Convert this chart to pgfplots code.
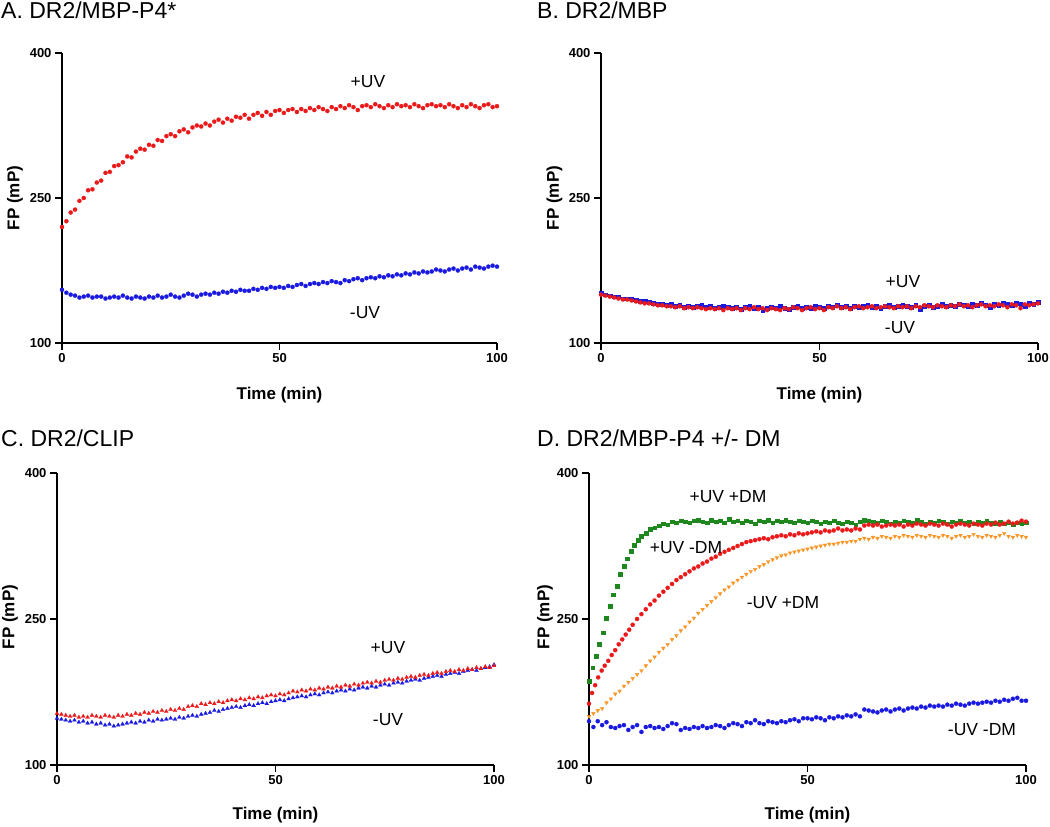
\documentclass[border=0pt]{standalone}
\usepackage{pgfplots}
\pgfplotsset{compat=1.18}
\usepackage{pgfplotstable}
\usepackage{fontspec}
\setmainfont{Liberation Sans}
\definecolor{pr}{RGB}{235,25,25}
\definecolor{pb}{RGB}{25,25,225}
\definecolor{pg}{RGB}{30,135,30}
\definecolor{po}{RGB}{250,150,40}

% Panel A: t, +UV, -UV
\pgfplotstableread{
t up down
0 220 155
1 226 152
2 235 150
3 238 149
4 247 147
5 250 148
6 258 149
7 259 147
8 266 148
9 268 148
10 276 146
11 277 147
12 283 148
13 284 147
14 287 149
15 293 147
16 292 146
17 298 148
18 301 147
19 300 146
20 305 148
21 304 147
22 310 149
23 309 147
24 314 148
25 316 150
26 314 148
27 319 147
28 321 149
29 318 151
30 323 150
31 325 148
32 324 150
33 327 151
34 325 150
35 329 152
36 331 151
37 328 153
38 332 152
39 330 154
40 334 153
41 333 155
42 336 154
43 332 154
44 336 156
45 338 155
46 335 157
47 339 156
48 336 158
49 340 157
50 341 158
51 338 157
52 341 159
53 342 158
54 339 160
55 342 161
56 340 159
57 343 161
58 341 162
59 344 161
60 342 163
61 340 162
62 344 164
63 342 163
64 345 162
65 343 165
66 346 164
67 344 166
68 341 167
69 345 165
70 346 167
71 344 168
72 347 167
73 345 169
74 343 168
75 346 170
76 344 169
77 347 171
78 345 170
79 346 172
80 344 171
81 347 173
82 345 172
83 343 174
84 346 173
85 347 174
86 345 176
87 346 175
88 344 174
89 347 176
90 345 177
91 343 175
92 346 177
93 344 178
94 347 176
95 345 179
96 343 178
97 346 177
98 347 179
99 344 180
100 345 179
}\tabA

% Panel B: t, -UV, +UV
\pgfplotstableread{
t down up
0 152 150
1 150 149
2 149 148
3 148 147
4 148 146
5 146 145
6 146 145
7 145 144
8 144 143
9 143 142
10 143 141
11 142 141
12 141 140
13 140 139
14 140 139
15 139 138
16 140 138
17 138 137
18 139 138
19 137 136
20 138 137
21 137 136
22 138 137
23 139 136
24 137 135
25 138 136
26 136 135
27 137 136
28 138 134
29 137 136
30 136 135
31 137 136
32 135 134
33 137 136
34 138 135
35 136 137
36 137 135
37 134 136
38 136 134
39 137 136
40 136 135
41 138 134
42 136 136
43 135 135
44 137 137
45 138 136
46 136 134
47 137 136
48 136 137
49 138 135
50 137 136
51 136 134
52 138 137
53 137 136
54 139 138
55 137 136
56 138 137
57 136 135
58 138 137
59 137 138
60 138 136
61 139 137
62 137 138
63 138 136
64 136 137
65 138 138
66 139 137
67 137 136
68 138 138
69 139 137
70 138 138
71 137 136
72 139 138
73 135 137
74 138 139
75 139 138
76 137 137
77 138 139
78 140 138
79 138 137
80 139 139
81 138 138
82 140 140
83 139 138
84 138 139
85 140 137
86 139 139
87 141 140
88 139 138
89 137 139
90 140 138
91 139 140
92 141 139
93 140 137
94 139 140
95 141 139
96 140 136
97 138 140
98 141 139
99 140 140
100 142 141
}\tabB

% Panel C: t, +UV, -UV
\pgfplotstableread{
t up down
0 153 148
1 152 147
2 151 146
3 150 145
4 151 146
5 149 144
6 150 145
7 149 143
8 151 144
9 150 142
10 149 143
11 151 141
12 150 142
13 149 140
14 151 141
15 150 142
16 152 143
17 151 144
18 153 143
19 152 145
20 154 144
21 153 146
22 155 145
23 154 147
24 156 146
25 155 147
26 157 148
27 156 147
28 158 149
29 157 148
30 160 150
31 161 151
32 160 150
33 163 152
34 162 153
35 164 154
36 163 156
37 165 155
38 164 157
39 166 158
40 167 159
41 166 160
42 168 159
43 167 161
44 169 162
45 168 161
46 170 163
47 169 164
48 171 163
49 172 165
50 171 166
51 173 167
52 172 166
53 174 168
54 176 169
55 175 170
56 177 171
57 176 170
58 178 172
59 177 173
60 179 172
61 178 174
62 180 175
63 179 174
64 181 176
65 180 177
66 182 176
67 181 178
68 183 177
69 182 179
70 184 180
71 185 179
72 184 181
73 186 180
74 185 182
75 187 183
76 188 182
77 187 184
78 189 185
79 188 184
80 190 186
81 191 187
82 190 188
83 192 187
84 193 189
85 192 190
86 194 191
87 195 192
88 194 191
89 196 193
90 197 194
91 196 195
92 198 194
93 197 196
94 199 197
95 198 198
96 200 197
97 199 199
98 201 200
99 200 201
100 202 203
}\tabC

% Panel D: +UV +DM
\pgfplotstableread{
t v
0 186
0.8 200
1.6 212
2.4 224
3.2 236
4.0 251
4.8 263
5.6 275
6.4 284
7.2 296
8.0 304
8.8 312
9.6 320
10.4 326
11.2 331
12 335
13 338
14 342
15 344
16 346
17 348
18 347
19 350
20 349
21 351
22 350
23 349
24 351
25 352
26 350
27 349
28 352
29 350
30 351
31 349
32 353
33 350
34 351
35 349
36 351
37 350
38 348
39 351
40 350
41 352
42 349
43 351
44 350
45 352
46 350
47 349
48 351
49 350
50 349
51 351
52 350
53 348
54 350
55 349
56 351
57 349
58 348
59 350
60 349
61 347
62 350
63 352
64 351
65 350
66 349
67 351
68 350
69 348
70 350
71 349
72 351
73 350
74 349
75 352
76 350
77 348
78 350
79 349
80 351
81 350
82 348
83 350
84 349
85 351
86 349
87 350
88 348
89 350
90 349
91 351
92 349
93 348
94 350
95 348
96 349
97 347
98 349
99 348
100 349
}\tabDg

% Panel D: +UV -DM
\pgfplotstableread{
t v
0 163
0.7 174
1.4 182
2.1 190
2.9 197
3.6 202
4.4 207
5.2 213
6.0 218
6.8 224
7.6 229
8.4 234
9.2 239
10 244
11 250
12 255
13 260
14 265
15 269
16 274
17 278
18 282
19 286
20 290
21 293
22 296
23 299
24 302
25 304
26 307
27 309
28 312
29 314
30 317
31 319
32 321
33 323
34 325
35 327
36 329
37 330
38 331
39 332
40 333
41 332
42 334
43 335
44 336
45 335
46 337
47 336
48 338
49 337
50 338
51 339
52 340
53 339
54 341
55 340
56 341
57 343
58 341
59 342
60 341
61 343
62 342
63 346
64 347
65 346
66 347
67 345
68 346
69 347
70 346
71 347
72 345
73 347
74 346
75 348
76 347
77 346
78 348
79 347
80 346
81 348
82 347
83 345
84 347
85 348
86 347
87 346
88 348
89 347
90 346
91 348
92 347
93 349
94 347
95 348
96 350
97 348
98 349
99 351
100 350
}\tabDr

% Panel D: -UV +DM (o), -UV -DM (b)
\pgfplotstableread{
t o b
0 150 145
1 153 139
2 156 145
3 158 141
4 164 144
5 168 139
6 173 138
7 176 140
8 181 141
9 185 136
10 189 139
11 193 141
12 197 134
13 202 139
14 207 140
15 211 138
16 216 139
17 220 137
18 224 140
19 229 143
20 233 142
21 238 136
22 242 138
23 247 137
24 251 139
25 256 138
26 260 140
27 264 138
28 268 139
29 272 141
30 276 140
31 280 138
32 283 141
33 287 143
34 290 142
35 293 140
36 296 144
37 299 143
38 301 146
39 304 143
40 306 142
41 309 145
42 311 144
43 313 143
44 315 145
45 316 144
46 318 146
47 319 147
48 320 145
49 321 148
50 322 148
51 323 147
52 324 149
53 325 148
54 326 146
55 327 149
56 327 148
57 328 150
58 329 149
59 329 151
60 330 150
61 330 152
62 332 150
63 333 157
64 332 156
65 334 155
66 333 154
67 335 156
68 334 157
69 333 155
70 335 157
71 334 158
72 336 156
73 335 158
74 334 159
75 336 158
76 335 160
77 334 159
78 336 161
79 335 160
80 334 161
81 336 160
82 335 162
83 333 161
84 335 163
85 336 162
86 334 161
87 335 163
88 337 164
89 335 163
90 334 164
91 336 165
92 335 164
93 334 166
94 336 165
95 338 167
96 335 166
97 334 168
98 336 169
99 335 166
100 334 166
}\tabDob

\pgfplotsset{
  panel/.style={
    scale only axis, anchor=south west,
    axis lines=left, axis line style={-, line width=2pt, black},
    xmin=0, xmax=100, ymin=100, ymax=400,
    xtick={0,50,100}, ytick={100,250,400},
    tick align=outside, major tick length=7pt,
    tick style={line width=1.6pt, black},
    ticklabel style={font=\fontsize{13}{13}\selectfont\bfseries},
    /pgf/number format/assume math mode=true,
    clip=false,
  },
  dots/.style={only marks, mark=*, mark size=2.1pt, mark options={line width=0.2pt}},
}

\begin{document}
\begin{tikzpicture}
\useasboundingbox (0,0) rectangle (1050pt,827pt);

% ---------- A ----------
\begin{axis}[panel, at={(62pt,484pt)}, width=435pt, height=290pt]
\addplot[dots, color=pr] table[x=t, y=up] {\tabA};
\addplot[dots, color=pb] table[x=t, y=down] {\tabA};
\end{axis}

% ---------- B ----------
\begin{axis}[panel, at={(601pt,484pt)}, width=437pt, height=290pt]
\addplot[dots, color=pb, mark=square*, mark size=1.9pt] table[x=t, y=down] {\tabB};
\addplot[dots, color=pr] table[x=t, y=up] {\tabB};
\end{axis}

% ---------- C ----------
\begin{axis}[panel, at={(57pt,62pt)}, width=437pt, height=292pt]
\addplot[dots, color=pb, mark=triangle*, mark size=2.3pt] table[x=t, y=down] {\tabC};
\addplot[dots, color=pr, mark=triangle*, mark size=2.3pt] table[x=t, y=up] {\tabC};
\end{axis}

% ---------- D ----------
\begin{axis}[panel, at={(589pt,62pt)}, width=437pt, height=292pt]
\addplot[dots, color=pg, mark=square*, mark size=1.9pt] table[x=t, y=v] {\tabDg};
\addplot[dots, color=pr] table[x=t, y=v] {\tabDr};
\addplot[dots, color=po, mark=triangle*, mark size=2.1pt, mark options={rotate=180}] table[x=t, y=o] {\tabDob};
\addplot[dots, color=pb] table[x=t, y=b] {\tabDob};
\end{axis}

% ---------- titles ----------
\tikzset{ttl/.style={anchor=base west, inner sep=0pt, font=\fontsize{23}{23}\selectfont},
         lab/.style={inner sep=0pt, font=\fontsize{17}{17}\selectfont\bfseries},
         ann/.style={inner sep=0pt, anchor=center, font=\fontsize{17.5}{17.5}\selectfont}}
\node[ttl] at (1pt,808pt) {A. DR2/MBP-P4*};
\node[ttl] at (537pt,808pt) {B. DR2/MBP};
\node[ttl] at (1pt,380pt) {C. DR2/CLIP};
\node[ttl] at (537pt,380pt) {D. DR2/MBP-P4 +/- DM};

% ---------- axis labels ----------
\node[lab, anchor=base] at (279.5pt,427pt) {Time (min)};
\node[lab, anchor=base] at (819.5pt,427pt) {Time (min)};
\node[lab, anchor=base] at (275.5pt,7pt) {Time (min)};
\node[lab, anchor=base] at (807.5pt,7pt) {Time (min)};
\node[lab, anchor=center, rotate=90] at (15pt,629pt) {FP (mP)};
\node[lab, anchor=center, rotate=90] at (554.5pt,629pt) {FP (mP)};
\node[lab, anchor=center, rotate=90] at (10pt,210pt) {FP (mP)};
\node[lab, anchor=center, rotate=90] at (545pt,210pt) {FP (mP)};

% ---------- annotations ----------
\node[ann] at (368pt,745pt) {+UV};
\node[ann] at (365pt,514pt) {-UV};
\node[ann] at (903pt,545pt) {+UV};
\node[ann] at (900pt,499pt) {-UV};
\node[ann] at (388pt,179pt) {+UV};
\node[ann] at (388pt,107pt) {-UV};
\node[ann] at (728pt,330pt) {+UV +DM};
\node[ann] at (686pt,279pt) {+UV -DM};
\node[ann] at (783pt,224pt) {-UV +DM};
\node[ann] at (982pt,97pt) {-UV -DM};
\end{tikzpicture}
\end{document}
